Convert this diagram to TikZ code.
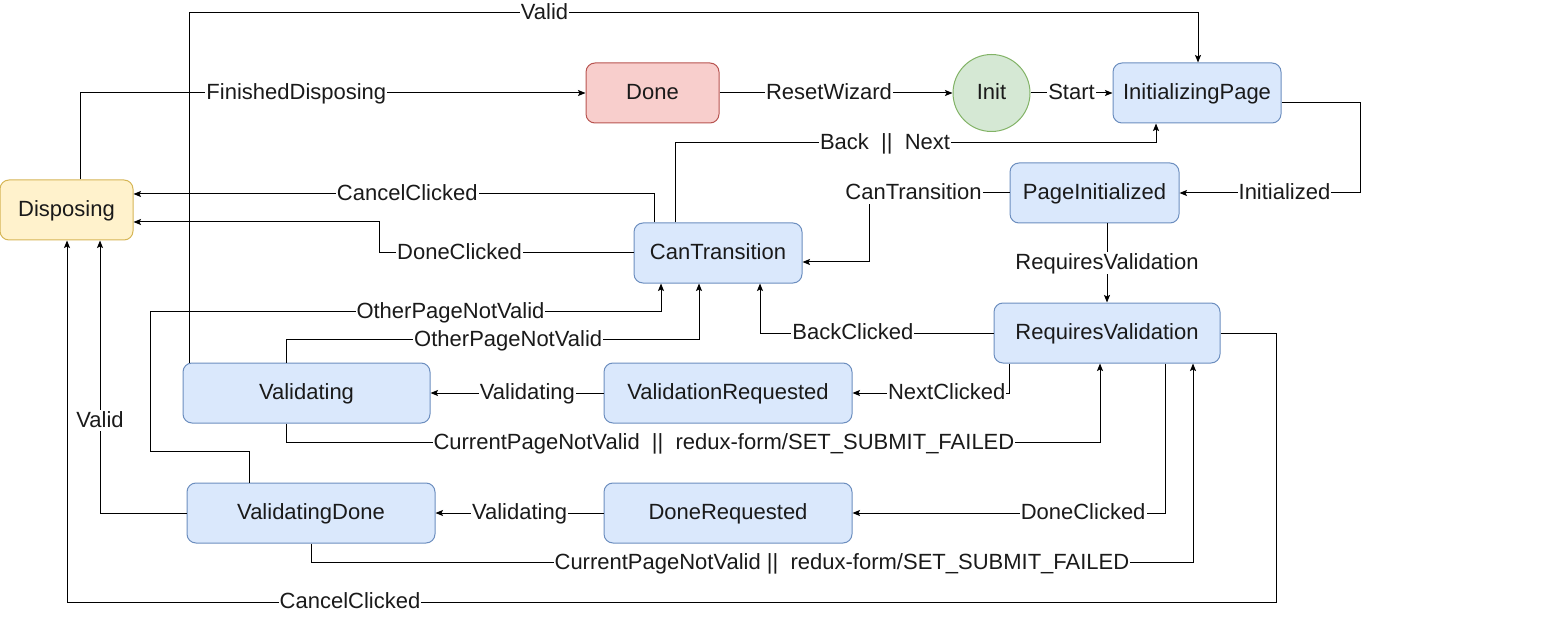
\documentclass[tikz,border=0pt]{standalone}
\usepackage{fontspec}
\setmainfont{Liberation Sans}
\usetikzlibrary{calc, arrows.meta}

\definecolor{bluefill}{HTML}{DAE8FC}
\definecolor{bluedraw}{HTML}{6C8EBF}
\definecolor{redfill}{HTML}{F8CECC}
\definecolor{reddraw}{HTML}{B85450}
\definecolor{greenfill}{HTML}{D5E8D4}
\definecolor{greendraw}{HTML}{82B366}
\definecolor{yellowfill}{HTML}{FFF2CC}
\definecolor{yellowdraw}{HTML}{D6B656}
\definecolor{txt}{HTML}{1A1A1A}

\begin{document}
\begin{tikzpicture}[x=1pt, y=-1pt, line width=1pt,
  font=\fontsize{22}{24}\selectfont, text=txt,
  every node/.style={text height=16.5pt, text depth=3pt},
  box/.style={draw, rounded corners=9pt, minimum height=60pt, inner sep=0pt},
  bluebox/.style={box, draw=bluedraw, fill=bluefill},
  arr/.style={-{Stealth[length=7.5pt, width=6pt, inset=1.5pt]}},
  lbl/.style={fill=white, inner sep=1pt}]

  \useasboundingbox (0,0) rectangle (1549,644);

  % states
  \node[box, draw=yellowdraw, fill=yellowfill, minimum width=133pt] (Disposing) at (66.5,210) {Disposing};
  \node[box, draw=reddraw, fill=redfill, minimum width=133pt] (Done) at (652.5,93) {Done};
  \node[circle, draw=greendraw, fill=greenfill, minimum size=77pt, inner sep=0pt] (Init) at (991.5,93) {Init};
  \node[bluebox, minimum width=168pt] (InitializingPage) at (1197,93) {InitializingPage};
  \node[bluebox, minimum width=169pt] (PageInitialized) at (1094.5,193) {PageInitialized};
  \node[bluebox, minimum width=168pt] (CanTransition) at (718,253) {CanTransition};
  \node[bluebox, minimum width=226pt] (RequiresValidation) at (1107,333) {RequiresValidation};
  \node[bluebox, minimum width=247pt] (Validating) at (306.5,393) {Validating};
  \node[bluebox, minimum width=248pt] (ValidationRequested) at (728,393) {ValidationRequested};
  \node[bluebox, minimum width=248pt] (ValidatingDone) at (311,513) {ValidatingDone};
  \node[bluebox, minimum width=248pt] (DoneRequested) at (728,513) {DoneRequested};

  % top row
  \draw[arr] ($(Disposing.north)+(13.5,0)$) |- node[lbl, pos=0.714] {FinishedDisposing} (Done.west);
  \draw[arr] (Done) -- node[lbl, pos=0.47] {ResetWizard} (Init);
  \draw[arr] (Init) -- node[lbl] {Start} (InitializingPage);
  \draw[arr] ($(Validating.north west)+(7,0)$) -- ++(0,-350)
    -| node[lbl, pos=0.176] {Valid} ($(InitializingPage.north)+(1,0)$);
  \draw[arr] ($(InitializingPage.east)+(0,10)$) -- ++(79,0)
    |- node[lbl, pos=0.71] {Initialized} (PageInitialized.east);
  \draw[arr] ($(CanTransition.north west)+(42,0)$) -- ++(0,-80)
    -| node[lbl, pos=0.218] {Back\ \ ||\ \ Next} ($(InitializingPage.south)+(-41,0)$);

  % middle
  \draw[arr] (PageInitialized.west) -- node[lbl, pos=0.686] {CanTransition} ++(-140,0)
    |- ($(CanTransition.east)+(0,9)$);
  \draw[arr] (RequiresValidation.north |- PageInitialized.south)
    -- node[lbl] {RequiresValidation} (RequiresValidation.north);
  \draw[arr] (RequiresValidation.west) -| node[lbl, pos=0.301] {BackClicked} ($(CanTransition.south)+(42,0)$);
  \draw[arr] ($(RequiresValidation.south west)+(16,0)$) |- node[lbl, pos=0.70] {NextClicked} (ValidationRequested.east);
  \draw[arr] (ValidationRequested) -- node[lbl, pos=0.44] {Validating} (Validating);
  \draw[arr] ($(Validating.south)+(-20.5,0)$) -- ++(0,19)
    -| node[lbl, pos=0.269] {CurrentPageNotValid\ \ ||\ \ redux-form/SET\_SUBMIT\_FAILED} ($(RequiresValidation.south)+(-7,0)$);
  \draw[arr] ($(Validating.north)+(-20.5,0)$) -- ++(0,-23)
    -| node[lbl, pos=0.269] {OtherPageNotValid} ($(CanTransition.south)+(-19,0)$);
  \draw[arr] ($(ValidatingDone.north)+(-62,0)$) -- ++(0,-31) -- ++(-99,0) -- ++(0,-140)
    -| node[lbl, pos=0.294] {OtherPageNotValid} ($(CanTransition.south)+(-57,0)$);

  % bottom
  \draw[arr] ($(RequiresValidation.south)+(58,0)$) |- node[lbl, pos=0.631] {DoneClicked} (DoneRequested.east);
  \draw[arr] (DoneRequested) -- node[lbl] {Validating} (ValidatingDone);
  \draw[arr] (ValidatingDone.south) -- ++(0,19)
    -| node[lbl, pos=0.301] {CurrentPageNotValid ||\ \ redux-form/SET\_SUBMIT\_FAILED} ($(RequiresValidation.south)+(86,0)$);

  % back to Disposing
  \draw[arr] (ValidatingDone.west) -| node[lbl, pos=0.67] {Valid} ($(Disposing.south)+(33.5,0)$);
  \draw[arr] (RequiresValidation.east) -- ++(56,0) -- ++(0,269)
    -| node[lbl, pos=0.383] {CancelClicked} ($(Disposing.south)+(0.5,0)$);
  \draw[arr] ($(CanTransition.north)+(-64,0)$) |- node[lbl, pos=0.737] {CancelClicked} ($(Disposing.east)+(0,-16)$);
  \draw[arr] (CanTransition.west) -- node[lbl, pos=0.685] {DoneClicked} ++(-254,0)
    |- ($(Disposing.east)+(0,12)$);
\end{tikzpicture}
\end{document}
